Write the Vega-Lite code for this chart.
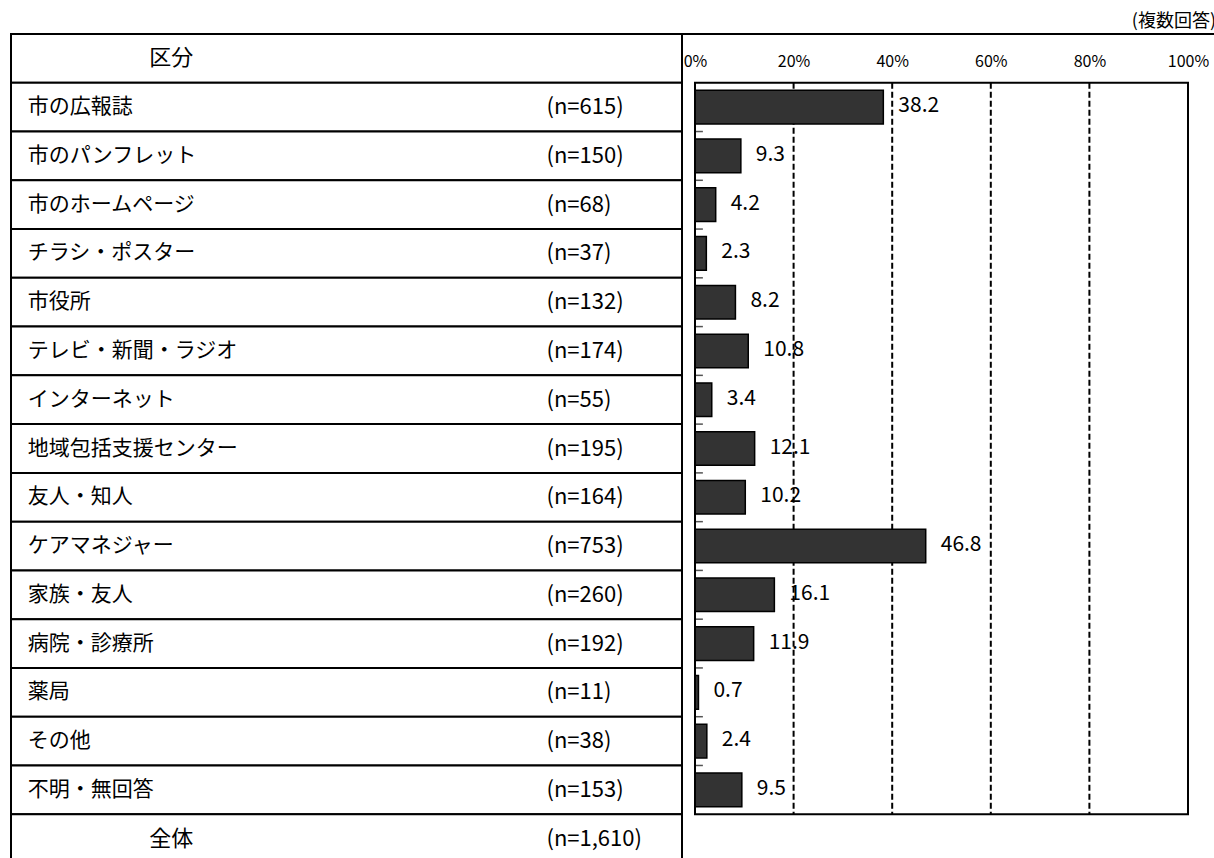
{
  "$schema": "https://vega.github.io/schema/vega-lite/v6.json",
  "width": 1205,
  "height": 829,
  "autosize": {"type": "none"},
  "padding": {"left": 11, "top": 34, "right": 0, "bottom": 0},
  "background": "white",
  "config": {
    "view": {"stroke": "black", "strokeWidth": 2},
    "font": "Noto Sans CJK JP",
    "text": {"font": "Noto Sans CJK JP", "color": "black"}
  },
  "title": {"text": "(複数回答)", "anchor": "end", "orient": "top", "fontSize": 18, "fontWeight": "normal", "font": "Noto Sans CJK JP", "color": "black", "offset": 2, "frame": "group", "dx": 0},
  "datasets": {
    "rows": [
      {"row": "区分", "kind": "center", "n": null, "value": null},
      {"row": "市の広報誌", "kind": "item", "n": "(n=615)", "value": 38.2},
      {"row": "市のパンフレット", "kind": "item", "n": "(n=150)", "value": 9.3},
      {"row": "市のホームページ", "kind": "item", "n": "(n=68)", "value": 4.2},
      {"row": "チラシ・ポスター", "kind": "item", "n": "(n=37)", "value": 2.3},
      {"row": "市役所", "kind": "item", "n": "(n=132)", "value": 8.2},
      {"row": "テレビ・新聞・ラジオ", "kind": "item", "n": "(n=174)", "value": 10.8},
      {"row": "インターネット", "kind": "item", "n": "(n=55)", "value": 3.4},
      {"row": "地域包括支援センター", "kind": "item", "n": "(n=195)", "value": 12.1},
      {"row": "友人・知人", "kind": "item", "n": "(n=164)", "value": 10.2},
      {"row": "ケアマネジャー", "kind": "item", "n": "(n=753)", "value": 46.8},
      {"row": "家族・友人", "kind": "item", "n": "(n=260)", "value": 16.1},
      {"row": "病院・診療所", "kind": "item", "n": "(n=192)", "value": 11.9},
      {"row": "薬局", "kind": "item", "n": "(n=11)", "value": 0.7},
      {"row": "その他", "kind": "item", "n": "(n=38)", "value": 2.4},
      {"row": "不明・無回答", "kind": "item", "n": "(n=153)", "value": 9.5},
      {"row": "全体", "kind": "center", "n": "(n=1,610)", "value": null}
    ],
    "grid": [{"g": 20}, {"g": 40}, {"g": 60}, {"g": 80}],
    "one": [{"box": 1}]
  },
  "data": {"name": "rows"},
  "layer": [
    {
      "layer": [
        {
          "mark": {"type": "rect", "fill": "white", "stroke": "black", "strokeWidth": 2},
          "encoding": {
            "y": {"field": "row", "type": "nominal", "axis": null,
                  "scale": {"domain": ["区分", "市の広報誌", "市のパンフレット", "市のホームページ", "チラシ・ポスター", "市役所", "テレビ・新聞・ラジオ", "インターネット", "地域包括支援センター", "友人・知人", "ケアマネジャー", "家族・友人", "病院・診療所", "薬局", "その他", "不明・無回答", "全体"], "paddingInner": 0, "paddingOuter": 0}},
            "x": {"datum": 0, "type": "quantitative", "axis": null, "scale": {"domain": [0, 100], "range": [0, 671], "nice": false}},
            "x2": {"datum": 100}
          }
        },
        {
          "transform": [{"filter": "datum.kind === 'item'"}],
          "mark": {"type": "text", "align": "left", "baseline": "middle", "fontSize": 21},
          "encoding": {
            "y": {"field": "row", "type": "nominal", "axis": null},
            "x": {"datum": 2.5, "type": "quantitative", "axis": null, "scale": {"domain": [0, 100], "range": [0, 671], "nice": false}},
            "text": {"field": "row"}
          }
        },
        {
          "transform": [{"filter": "datum.kind === 'center'"}],
          "mark": {"type": "text", "align": "center", "baseline": "middle", "fontSize": 22},
          "encoding": {
            "y": {"field": "row", "type": "nominal", "axis": null},
            "x": {"datum": 23.9, "type": "quantitative", "axis": null, "scale": {"domain": [0, 100], "range": [0, 671], "nice": false}},
            "text": {"field": "row"}
          }
        },
        {
          "transform": [{"filter": "datum.n !== null"}],
          "mark": {"type": "text", "align": "left", "baseline": "middle", "fontSize": 22},
          "encoding": {
            "y": {"field": "row", "type": "nominal", "axis": null},
            "x": {"datum": 79.8, "type": "quantitative", "axis": null, "scale": {"domain": [0, 100], "range": [0, 671], "nice": false}},
            "text": {"field": "n"}
          }
        }
      ]
    },
    {
      "layer": [
        {
          "data": {"name": "grid"},
          "mark": {"type": "rule", "color": "black", "strokeWidth": 2, "strokeDash": [6, 3]},
          "encoding": {
            "x": {"field": "g", "type": "quantitative", "scale": {"domain": [0, 100], "range": [684, 1177], "nice": false},
                  "axis": {"orient": "top", "offset": -49, "values": [0, 20, 40, 60, 80, 100], "labelExpr": "datum.value + '%'", "labelFlush": false, "domain": false, "ticks": false, "tickSize": 0, "grid": false, "labelPadding": 14, "labelFontSize": 16, "labelColor": "black", "labelFont": "Noto Sans CJK JP", "title": null}},
            "y": {"datum": "市の広報誌", "type": "nominal", "bandPosition": 0, "axis": null},
            "y2": {"datum": "不明・無回答", "bandPosition": 1}
          }
        },
        {
          "transform": [{"filter": "datum.kind === 'item' && datum.row !== '市の広報誌'"}],
          "mark": {"type": "rule", "color": "#555555", "strokeWidth": 1.5},
          "encoding": {
            "x": {"datum": 0, "type": "quantitative", "scale": {"domain": [0, 100], "range": [684, 1177], "nice": false},
                  "axis": {"orient": "top", "offset": -49, "values": [0, 20, 40, 60, 80, 100], "labelExpr": "datum.value + '%'", "labelFlush": false, "domain": false, "ticks": false, "tickSize": 0, "grid": false, "labelPadding": 14, "labelFontSize": 16, "labelColor": "black", "labelFont": "Noto Sans CJK JP", "title": null}},
            "x2": {"datum": 1.6},
            "y": {"field": "row", "type": "nominal", "bandPosition": 0, "axis": null}
          }
        },
        {
          "transform": [{"filter": "datum.kind === 'item'"}],
          "mark": {"type": "bar", "color": "#333333", "stroke": "black", "strokeWidth": 1.5, "height": {"band": 0.69}},
          "encoding": {
            "x": {"field": "value", "type": "quantitative", "scale": {"domain": [0, 100], "range": [684, 1177], "nice": false},
                  "axis": {"orient": "top", "offset": -49, "values": [0, 20, 40, 60, 80, 100], "labelExpr": "datum.value + '%'", "labelFlush": false, "domain": false, "ticks": false, "tickSize": 0, "grid": false, "labelPadding": 14, "labelFontSize": 16, "labelColor": "black", "labelFont": "Noto Sans CJK JP", "title": null}},
            "y": {"field": "row", "type": "nominal", "axis": null}
          }
        },
        {
          "transform": [{"filter": "datum.kind === 'item'"}],
          "mark": {"type": "text", "align": "left", "baseline": "middle", "dx": 15, "dy": -1, "fontSize": 21},
          "encoding": {
            "x": {"field": "value", "type": "quantitative", "scale": {"domain": [0, 100], "range": [684, 1177], "nice": false},
                  "axis": {"orient": "top", "offset": -49, "values": [0, 20, 40, 60, 80, 100], "labelExpr": "datum.value + '%'", "labelFlush": false, "domain": false, "ticks": false, "tickSize": 0, "grid": false, "labelPadding": 14, "labelFontSize": 16, "labelColor": "black", "labelFont": "Noto Sans CJK JP", "title": null}},
            "y": {"field": "row", "type": "nominal", "axis": null},
            "text": {"field": "value", "type": "quantitative", "format": ".1f"}
          }
        },
        {
          "data": {"name": "one"},
          "mark": {"type": "rect", "filled": false, "color": "black", "strokeWidth": 2},
          "encoding": {
            "x": {"datum": 0, "type": "quantitative", "scale": {"domain": [0, 100], "range": [684, 1177], "nice": false},
                  "axis": {"orient": "top", "offset": -49, "values": [0, 20, 40, 60, 80, 100], "labelExpr": "datum.value + '%'", "labelFlush": false, "domain": false, "ticks": false, "tickSize": 0, "grid": false, "labelPadding": 14, "labelFontSize": 16, "labelColor": "black", "labelFont": "Noto Sans CJK JP", "title": null}},
            "x2": {"datum": 100},
            "y": {"datum": "市の広報誌", "type": "nominal", "bandPosition": 0, "axis": null},
            "y2": {"datum": "不明・無回答", "bandPosition": 1}
          }
        }
      ]
    }
  ],
  "resolve": {"scale": {"x": "independent"}}
}
